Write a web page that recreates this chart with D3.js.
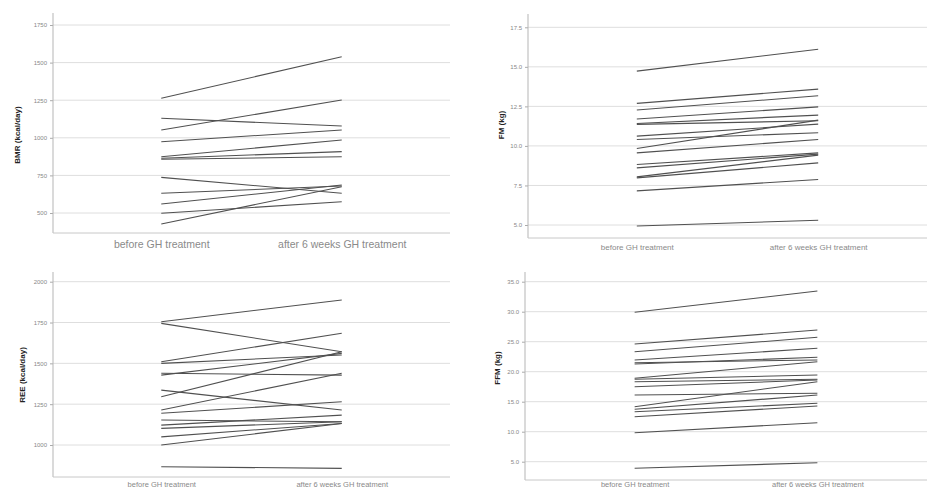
<!DOCTYPE html>
<html>
<head>
<meta charset="utf-8">
<script src="https://cdn.jsdelivr.net/npm/d3@7"></script>
<style>
  body { margin: 0; background: #fff; }
  text { font-family: "Liberation Sans", Arial, sans-serif; }
</style>
</head>
<body>
<svg id="chart" width="927" height="490"></svg>
<script>
// categories shared by all four panels
const categories = ["before GH treatment", "after 6 weeks GH treatment"];

// panel 1: BMR
const bmrTicks = [500, 750, 1000, 1250, 1500, 1750];
const bmrBefore = [1263, 1130, 1052, 974, 874, 864, 857, 737, 631, 560, 498, 427];
const bmrAfter  = [1539, 1078, 1251, 1052, 985, 908, 874, 631, 680, 686, 575, 675];

// panel 2: fat mass
const fmTicks = [5.0, 7.5, 10.0, 12.5, 15.0, 17.5];
const fmBefore = [14.73, 12.69, 12.27, 11.70, 11.42, 11.36, 10.62, 10.41, 9.84, 9.56, 8.83, 8.61, 8.04, 7.98, 7.16, 4.94];
const fmAfter  = [16.11, 13.59, 13.17, 12.47, 11.95, 11.59, 11.38, 10.83, 11.63, 10.41, 9.56, 9.48, 9.42, 8.93, 7.88, 5.30];

// panel 3: REE
const reeTicks = [1000, 1250, 1500, 1750, 2000];
const reeBefore = [1755, 1745, 1510, 1500, 1439, 1428, 1336, 1295, 1214, 1194, 1153, 1122, 1102, 1050, 1000, 867];
const reeAfter  = [1888, 1571, 1684, 1551, 1428, 1561, 1214, 1571, 1439, 1265, 1142, 1183, 1142, 1132, 1132, 857];

// panel 4: fat free mass
const ffmTicks = [5.0, 10.0, 15.0, 20.0, 25.0, 30.0, 35.0];
const ffmBefore = [29.9, 24.62, 23.33, 21.95, 21.5, 21.28, 18.9, 18.73, 18.33, 17.5, 16.12, 14.17, 13.73, 13.33, 12.5, 9.83, 3.9];
const ffmAfter  = [33.45, 26.95, 25.73, 23.9, 21.95, 22.4, 21.67, 19.45, 18.73, 18.62, 16.4, 18.33, 16.12, 14.73, 14.28, 11.5, 4.83];

const svg = d3.select("#chart");

// layout of each panel (pixels); catY = vertical centre of the category labels
const panels = [
  { title: "BMR (kcal/day)", ticks: bmrTicks, before: bmrBefore, after: bmrAfter, fmt: d3.format("d"),
    left: 53, right: 450, top: 13, bottom: 233, tickTop: 25, tickBottom: 213,
    labelX: 18, labelY: 135, catY: 244, catSize: 10.5 },
  { title: "FM (kg)", ticks: fmTicks, before: fmBefore, after: fmAfter, fmt: d3.format(".1f"),
    left: 528, right: 927, top: 14, bottom: 238, tickTop: 27.3, tickBottom: 225,
    labelX: 502, labelY: 125, catY: 247, catSize: 8 },
  { title: "REE (kcal/day)", ticks: reeTicks, before: reeBefore, after: reeAfter, fmt: d3.format("d"),
    left: 53, right: 450, top: 272, bottom: 477, tickTop: 281.7, tickBottom: 445,
    labelX: 23, labelY: 375, catY: 484, catSize: 7.5 },
  { title: "FFM (kg)", ticks: ffmTicks, before: ffmBefore, after: ffmAfter, fmt: d3.format(".1f"),
    left: 525, right: 927, top: 272, bottom: 480, tickTop: 281.7, tickBottom: 461.7,
    labelX: 498, labelY: 368, catY: 484.5, catSize: 7.5 }
];

panels.forEach(p => {
  const g = svg.append("g");

  const x = d3.scalePoint().domain(categories).range([p.left, p.right]).padding(0.6);
  const y = d3.scaleLinear()
    .domain([d3.min(p.ticks), d3.max(p.ticks)])
    .range([p.tickBottom, p.tickTop]);

  // gridlines
  g.selectAll(".grid")
    .data(p.ticks)
    .enter()
    .append("line")
    .attr("x1", p.left)
    .attr("x2", p.right)
    .attr("y1", d => y(d))
    .attr("y2", d => y(d))
    .attr("stroke", "#dedede")
    .attr("stroke-width", 1);

  // y axis
  const yAxis = d3.axisLeft(y).tickValues(p.ticks).tickFormat(p.fmt).tickSize(3).tickPadding(3);
  const ay = g.append("g").attr("transform", `translate(${p.left},0)`).call(yAxis);
  ay.select(".domain").remove();
  ay.selectAll(".tick line").attr("stroke", "#aaa");
  ay.selectAll(".tick text").attr("fill", "#888").style("font-size", "6px");
  g.append("line")
    .attr("x1", p.left).attr("x2", p.left)
    .attr("y1", p.top).attr("y2", p.bottom)
    .attr("stroke", "#b5b5b5");

  // x axis, labels centred on catY
  const xAxis = d3.axisBottom(x).tickSize(0).tickPadding(0);
  const ax = g.append("g").attr("transform", `translate(0,${p.bottom})`).call(xAxis);
  ax.select(".domain").remove();
  ax.selectAll(".tick text")
    .attr("y", p.catY - p.bottom)
    .attr("dy", "0.35em")
    .attr("fill", "#8a8a8a")
    .style("font-size", p.catSize + "px");
  g.append("line")
    .attr("x1", p.left).attr("x2", p.right)
    .attr("y1", p.bottom).attr("y2", p.bottom)
    .attr("stroke", "#c8c8c8");

  // y axis title
  g.append("text")
    .attr("transform", `translate(${p.labelX},${p.labelY}) rotate(-90)`)
    .attr("text-anchor", "middle")
    .attr("dominant-baseline", "middle")
    .style("font-size", "8px")
    .style("font-weight", "bold")
    .attr("fill", "#222")
    .text(p.title);

  // one line per subject
  const pairs = p.before.map((b, i) => [b, p.after[i]]);
  const line = d3.line().x((d, i) => x(categories[i])).y(d => y(d));
  g.selectAll(".subject")
    .data(pairs)
    .enter()
    .append("path")
    .attr("class", "subject")
    .attr("d", line)
    .attr("fill", "none")
    .attr("stroke", "#505050")
    .attr("stroke-width", 1.1);
});
</script>
</body>
</html>
